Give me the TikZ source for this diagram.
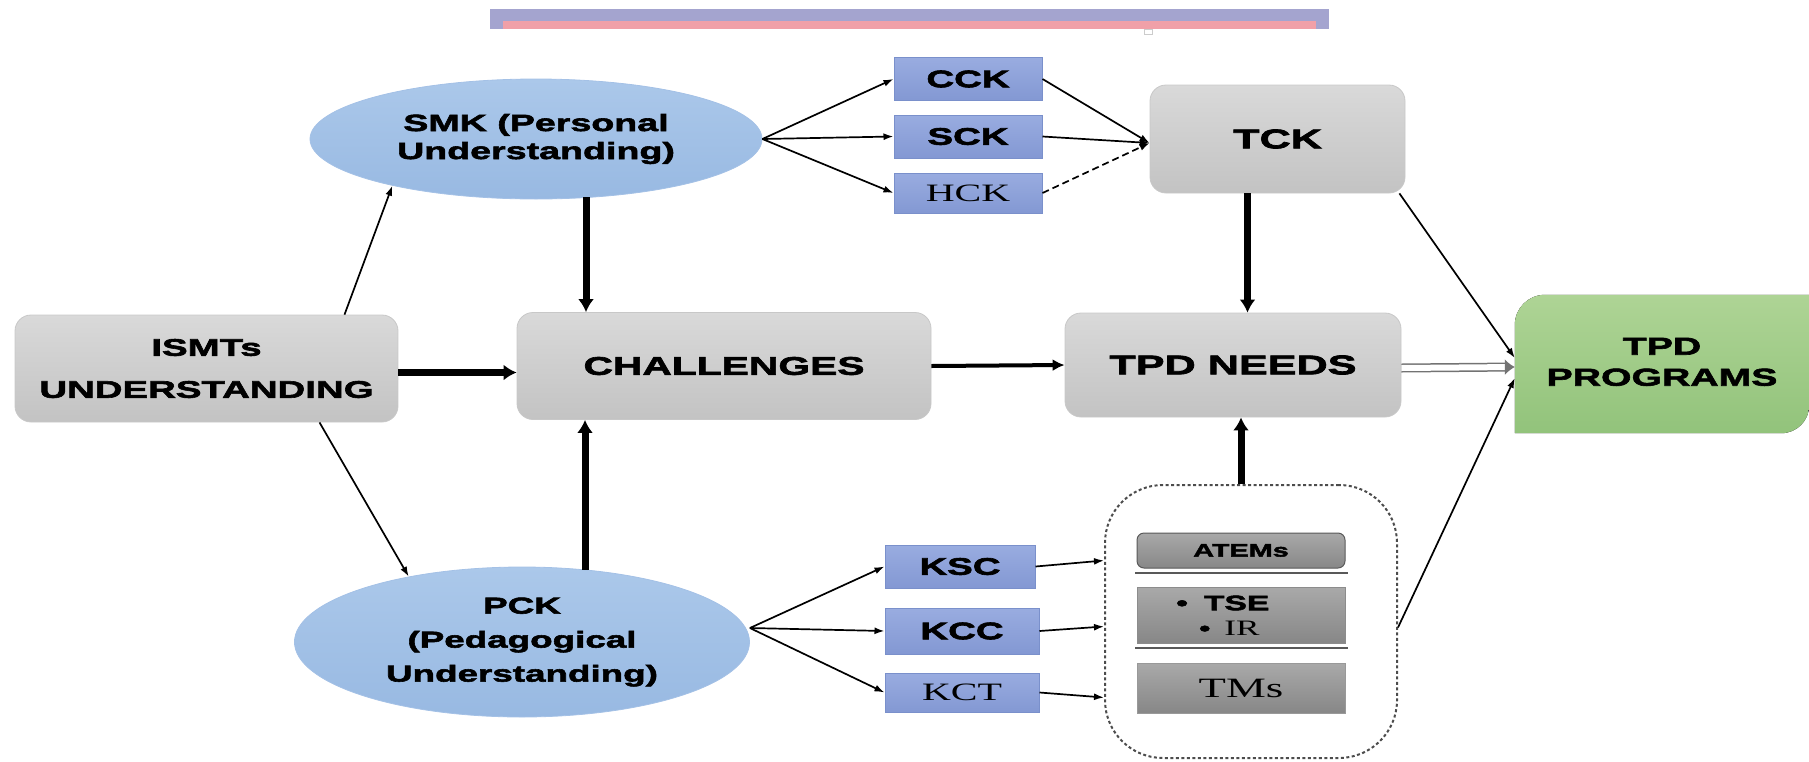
\documentclass[tikz,border=0pt]{standalone}
\usepackage{fontspec}
\usetikzlibrary{arrows.meta,shapes.geometric,calc,backgrounds}
\newfontfamily\bfam[FakeStretch=1.6,FakeBold=2.5]{Liberation Sans Bold}
\newfontfamily\rfam[FakeStretch=1.6]{Liberation Serif}
\definecolor{boxtop}{HTML}{D9D9D9}
\definecolor{boxbot}{HTML}{C3C3C3}
\definecolor{boxedge}{HTML}{C8C8C8}
\definecolor{elltop}{HTML}{ABC8EA}
\definecolor{ellbot}{HTML}{98B9E2}
\definecolor{elledge}{HTML}{A4C1E6}
\definecolor{bluetop}{HTML}{99ACE0}
\definecolor{bluebot}{HTML}{8398D3}
\definecolor{bluedge}{HTML}{7A90CB}
\definecolor{greentop}{HTML}{AED495}
\definecolor{greenbot}{HTML}{92C37B}
\definecolor{dgtop}{HTML}{A9A9A9}
\definecolor{dgbot}{HTML}{878787}
\definecolor{barpurple}{HTML}{A4A4CF}
\definecolor{barpink}{HTML}{F0A0A8}
\begin{document}
\begin{tikzpicture}[x=1pt,y=-1pt,
  graybox/.style={rounded corners=16pt, top color=boxtop, bottom color=boxbot, draw=boxedge, line width=0.8pt, inner sep=0pt, align=center},
  bluebox/.style={draw=bluedge, line width=1pt, top color=bluetop, bottom color=bluebot, inner sep=0pt, align=center},
  blueell/.style={ellipse, draw=elledge, line width=0.8pt, top color=elltop, bottom color=ellbot, inner sep=0pt, align=center},
  dgbox/.style={draw=black!65, line width=1pt, top color=dgtop, bottom color=dgbot, inner sep=0pt, align=center},
  midtxt/.style={font=\bfam\fontsize{24}{27}\selectfont},
  sertxt/.style={font=\rfam\fontsize{25}{28}\selectfont},
  thinarr/.style={-{Latex[length=10pt,width=7pt]}, line width=1.7pt},
  thickarr/.style={-{Latex[length=13pt,width=16pt]}, line width=7pt},
  medarr/.style={-{Latex[length=12pt,width=12pt]}, line width=4pt}
]
\useasboundingbox (0,0) rectangle (1809,761);
% top bar remnant
\fill[barpurple] (490,9) rectangle (1329,29);
\fill[barpink] (503,21) rectangle (1316,29);
\draw[black!20, line width=1pt] (1144,29) rectangle (1152,34);

% main nodes
\node[graybox, font=\bfam\fontsize{24}{42}\selectfont, minimum width=383pt, minimum height=107pt] (ismts) at (206.5,368.5) {ISMTs\\UNDERSTANDING};
\node[graybox, font=\bfam\fontsize{25.5}{30}\selectfont, minimum width=414pt, minimum height=107pt] (chal) at (724,366) {CHALLENGES};
\node[graybox, font=\bfam\fontsize{27}{30}\selectfont, minimum width=336pt, minimum height=104pt] (needs) at (1233,365) {TPD NEEDS};
\node[graybox, font=\bfam\fontsize{27}{30}\selectfont, minimum width=255pt, minimum height=108pt] (tck) at (1277.5,139) {TCK};
\node[inner sep=0pt, minimum width=294pt, minimum height=138pt, align=center] (prog) at (1662,364) {\raisebox{7pt}{\bfam\fontsize{24.5}{31}\selectfont\begin{tabular}{@{}c@{}}TPD\\PROGRAMS\end{tabular}}};
\begin{scope}[on background layer]
\fill[top color=greentop, bottom color=greenbot] (prog.south west) -- ([yshift=-30pt]prog.north west) arc[start angle=180, end angle=270, radius=30] -- (prog.north east) -- ([yshift=28pt]prog.south east) arc[start angle=0, end angle=90, radius=28] -- cycle;
\end{scope}

\node[blueell, font=\bfam\fontsize{23.5}{28}\selectfont, minimum width=452pt, minimum height=120pt] (smk) at (536,139) {SMK (Personal\\Understanding)};
\node[blueell, font=\bfam\fontsize{23}{34}\selectfont, minimum width=455pt, minimum height=150pt] (pck) at (522,642) {PCK\\(Pedagogical\\Understanding)};

\node[bluebox, midtxt, minimum width=148pt, minimum height=43pt] (cck) at (968,79) {CCK};
\node[bluebox, midtxt, minimum width=148pt, minimum height=43pt] (sck) at (968,136.5) {SCK};
\node[bluebox, sertxt, minimum width=148pt, minimum height=40pt] (hck) at (968,193) {HCK};
\node[bluebox, midtxt, minimum width=150pt, minimum height=43pt] (ksc) at (960,566.5) {KSC};
\node[bluebox, midtxt, minimum width=154pt, minimum height=46pt] (kcc) at (962,631) {KCC};
\node[bluebox, sertxt, minimum width=154pt, minimum height=39pt] (kct) at (962,692.5) {KCT};

% container
\node[draw=black!70, line width=2pt, dash pattern=on 3pt off 2.5pt, rounded corners=58pt, minimum width=292pt, minimum height=273pt, inner sep=0pt] (cont) at (1251,621.5) {};
\node[dgbox, rounded corners=7pt, font=\bfam\fontsize{18}{20}\selectfont, minimum width=208pt, minimum height=35pt] (atems) at (1241,550.5) {ATEMs};
\node[dgbox, draw=black!45, minimum width=208pt, minimum height=56pt] (tse) at (1241,615) {};
\node[inner sep=0pt, anchor=west, font=\bfam\fontsize{21}{20}\selectfont] (tsetxt) at (1176,603) {\textbullet\hspace{16pt}TSE};
\node[inner sep=0pt, anchor=west, font=\rfam\fontsize{22}{20}\selectfont] (irtxt) at (1199,628) {{\bfam\fontsize{20}{20}\selectfont\textbullet}\hspace{14pt}IR};
\node[dgbox, draw=black!40, font=\rfam\fontsize{28}{30}\selectfont, minimum width=208pt, minimum height=50pt] (tms) at (1241,688) {TMs};
\draw[black!65, line width=2pt] (1135,573) -- (1348,573);
\draw[black!65, line width=2pt] (1135,648) -- (1348,648);

% connectors
\draw[thinarr] ([xshift=138pt]ismts.north) -- (smk.198);
\draw[thinarr] ([xshift=113pt]ismts.south) -- (pck.150);
\draw[thickarr] ([yshift=-4pt]ismts.east) -- ([yshift=-4pt]ismts.east -| chal.west);
\coordinate (smkb) at ([xshift=50pt]smk.south);
\draw[thickarr] ([yshift=2pt]smkb) -- (smkb |- chal.north);
\coordinate (pckt) at ([xshift=63pt,yshift=-3pt]pck.north);
\draw[thickarr] (pckt) -- (pckt |- chal.south);
\draw[medarr] (chal.east) -- (needs.west);
\coordinate (tckb) at ([xshift=-30pt]tck.south);
\draw[thickarr] (tckb) -- (tckb |- needs.north);
\coordinate (contt) at ([xshift=-10pt]cont.north);
\draw[thickarr] (contt) -- (contt |- needs.south);
\draw[draw=black!55, double=white, double distance=6pt, line width=1.5pt, -{Latex[length=10pt,width=16pt]}] ([yshift=-3pt]needs.east) -- ([yshift=-3pt]prog.west);
\draw[thinarr] ([xshift=-6pt]tck.south east) -- ([yshift=6pt]prog.west);
\draw[thinarr] ([yshift=-6pt]cont.east) -- ([yshift=-14pt]prog.west);

\draw[thinarr] (smk.east) -- (cck.west);
\draw[thinarr] (smk.east) -- (sck.west);
\draw[thinarr] (smk.east) -- (hck.west);
\draw[thinarr] (cck.east) -- ([yshift=-4pt]tck.west);
\draw[thinarr] (sck.east) -- ([yshift=-4pt]tck.west);
\draw[thinarr, dash pattern=on 7pt off 4pt] (hck.east) -- ([yshift=-4pt]tck.west);

\draw[thinarr] ([yshift=14pt]pck.east) -- (ksc.west);
\draw[thinarr] ([yshift=14pt]pck.east) -- (kcc.west);
\draw[thinarr] ([yshift=14pt]pck.east) -- (kct.west);
\draw[thinarr] (ksc.east) -- ([yshift=61pt]cont.west);
\draw[thinarr] (kcc.east) -- ([yshift=-5pt]cont.west);
\draw[thinarr] (kct.east) -- ([yshift=-76pt]cont.west);
\end{tikzpicture}
\end{document}
